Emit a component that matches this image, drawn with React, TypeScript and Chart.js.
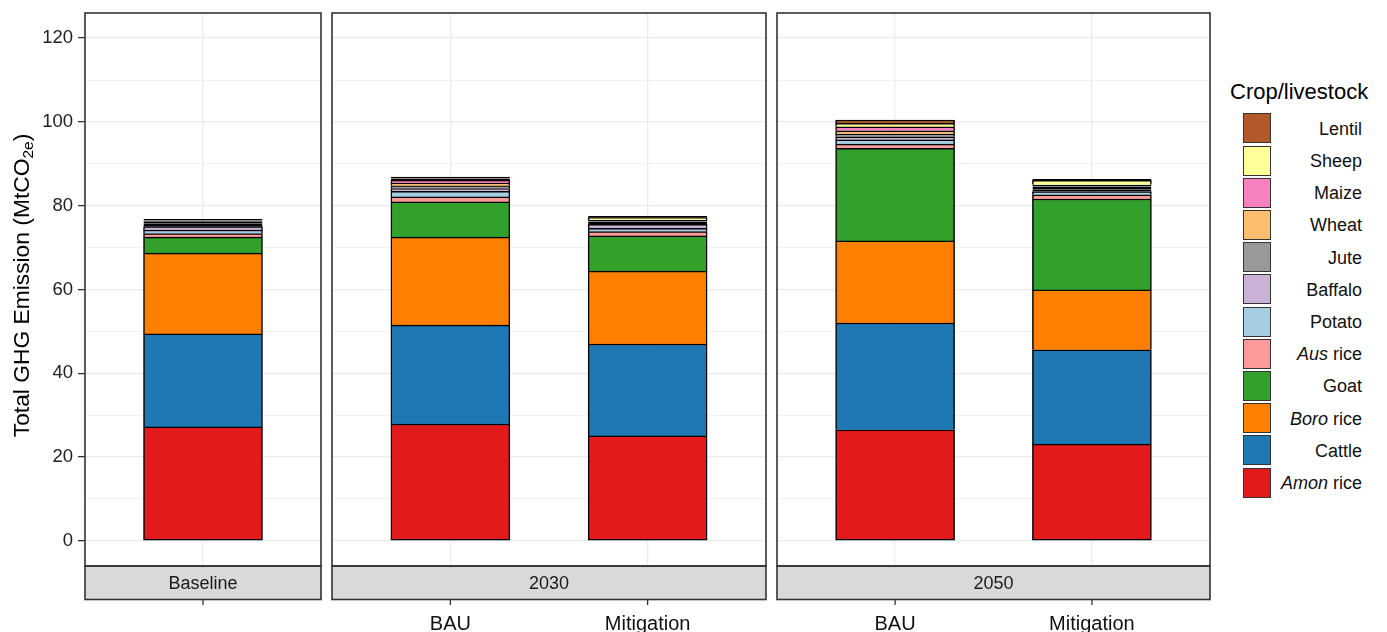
import React, { useEffect, useRef } from "react";
import { Chart, registerables } from "chart.js";

Chart.register(...registerables);

// ---------------- data ----------------
const PANELS = ["Baseline", "2030", "2050"];
const BAR_PANEL = [0, 1, 1, 2, 2];
const BAR_SCENARIO = ["", "BAU", "Mitigation", "BAU", "Mitigation"];

const Y_LABEL_TICKS = [0, 20, 40, 60, 80, 100, 120];
const Y_GRID_TICKS = [0, 10, 20, 30, 40, 50, 60, 70, 80, 90, 100, 110, 120];

const SERIES_NAMES = [
  "Amon rice",
  "Cattle",
  "Boro rice",
  "Goat",
  "Aus rice",
  "Potato",
  "Baffalo",
  "Jute",
  "Wheat",
  "Maize",
  "Sheep",
  "Lentil",
];

// values per bar: Baseline, 2030 BAU, 2030 Mitigation, 2050 BAU, 2050 Mitigation
const amonRice = [27.2, 27.9, 25.05, 26.5, 23.1];
const cattle = [22.2, 23.6, 21.95, 25.5, 22.5];
const boroRice = [19.3, 21.0, 17.4, 19.6, 14.3];
const goat = [3.8, 8.4, 8.4, 22.1, 21.7];
const ausRice = [0.85, 1.2, 1.0, 1.0, 1.0];
const potato = [0.85, 1.35, 0.8, 1.0, 0.8];
const baffalo = [0.8, 0.65, 0.95, 0.75, 0.4];
const jute = [0.4, 0.65, 0.35, 0.65, 0.4];
const wheat = [0.4, 0.65, 0.35, 0.8, 0.4];
const maize = [0.35, 0.7, 0.35, 0.95, 0.4];
const sheep = [0.35, 0.4, 0.55, 0.8, 1.05];
const lentil = [0.3, 0.4, 0.4, 0.8, 0.3];

const SERIES_VALUES = [
  amonRice,
  cattle,
  boroRice,
  goat,
  ausRice,
  potato,
  baffalo,
  jute,
  wheat,
  maize,
  sheep,
  lentil,
];

// ---------------- styles ----------------
const COLORS = [
  "#E31A1C",
  "#1F78B4",
  "#FF7F00",
  "#33A02C",
  "#FB9A99",
  "#A6CEE3",
  "#CAB2D6",
  "#999999",
  "#FDBF6F",
  "#F781BF",
  "#FFFF99",
  "#B15928",
];

const FONT = "'Liberation Sans', Arial, Helvetica, sans-serif";
const W = 1387;
const H = 632;
// panel plotting areas [left, width]
const AREA: [number, number][] = [
  [85, 236],
  [332, 434],
  [777, 433],
];
const AREA_TOP = 13;
const AREA_BOTTOM = 566;
const STRIP_H = 33.5;
const Y_AXIS_W = 85;
const PAD = 2;
const BORDER_W = 1.5;
const THIN = 0.5;

Chart.defaults.font.family = FONT;

const panelPlugin = {
  id: "panelDeco",
  afterDraw(chart: any, _args: any, opts: any) {
    const { ctx, chartArea: a } = chart;
    ctx.save();
    const sTop = a.bottom;
    const sBot = a.bottom + STRIP_H;
    // strip
    ctx.fillStyle = "#D9D9D9";
    ctx.fillRect(a.left, sTop, a.right - a.left, STRIP_H);
    ctx.strokeStyle = "#333333";
    ctx.lineWidth = 1.6;
    ctx.strokeRect(a.left, sTop, a.right - a.left, STRIP_H);
    // panel border
    ctx.strokeRect(a.left, a.top, a.right - a.left, a.bottom - a.top);
    // strip text
    ctx.fillStyle = "#1A1A1A";
    ctx.font = `18px ${FONT}`;
    ctx.textAlign = "center";
    ctx.textBaseline = "middle";
    ctx.fillText(opts.title, (a.left + a.right) / 2, (sTop + sBot) / 2 + 1);
    // x tick marks below strip
    const xs = chart.scales.x;
    ctx.lineWidth = 1.3;
    ctx.beginPath();
    xs.ticks.forEach((t: any) => {
      const px = xs.getPixelForValue(t.value);
      ctx.moveTo(px, sBot);
      ctx.lineTo(px, sBot + 5.5);
    });
    ctx.stroke();
    // y axis title
    if (opts.yTitle) {
      const cx = opts.yTitleX;
      const cy = (a.top + a.bottom) / 2;
      ctx.translate(cx, cy);
      ctx.rotate(-Math.PI / 2);
      ctx.textAlign = "left";
      ctx.textBaseline = "alphabetic";
      ctx.fillStyle = "#000000";
      const main = "Total GHG Emission (MtCO";
      const sub = "2e";
      const close = ")";
      ctx.font = `22.8px ${FONT}`;
      const w1 = ctx.measureText(main).width;
      const w3 = ctx.measureText(close).width;
      ctx.font = `15.5px ${FONT}`;
      const w2 = ctx.measureText(sub).width;
      const start = -(w1 + w2 + w3) / 2 + 4;
      const base = 8.2;
      ctx.font = `22.8px ${FONT}`;
      ctx.fillText(main, start, base);
      ctx.font = `15.5px ${FONT}`;
      ctx.fillText(sub, start + w1, base + 4);
      ctx.font = `22.8px ${FONT}`;
      ctx.fillText(close, start + w1 + w2, base);
    }
    ctx.restore();
  },
};

function PanelChart({ p }: { p: number }) {
  const ref = useRef<HTMLCanvasElement | null>(null);
  const yW = p === 0 ? Y_AXIS_W : 0;
  const [areaLeft, areaW] = AREA[p];
  const canvasLeft = areaLeft - yW - PAD;
  const canvasW = areaW + yW + 2 * PAD;

  useEffect(() => {
    if (!ref.current) return;
    const bars = BAR_PANEL.map((bp, i) => (bp === p ? i : -1)).filter((i) => i >= 0);
    const xs = bars.map((_, k) => k + 1);
    const labels = bars.map((b) => BAR_SCENARIO[b]);

    const rawY = (c: any) => (c.raw && typeof c.raw.y === "number" ? c.raw.y : 1);

    const datasets = SERIES_VALUES.map((vals, si) => ({
      label: SERIES_NAMES[si],
      data: bars.map((b, k) => ({ x: k + 1, y: vals[b] })),
      backgroundColor: COLORS[si],
      borderColor: "#000000",
      borderWidth: BORDER_W,
      // very thin segments get their outline on both edges (they read as black, as in ggplot)
      borderSkipped: (c: any) => (si === 0 || rawY(c) < THIN ? false : "start"),
      inflateAmount: (c: any) => (rawY(c) < THIN ? 0 : 0.33),
      barThickness: 119,
    }));

    const chart = new Chart(ref.current, {
      type: "bar",
      data: { datasets: datasets as any },
      options: {
        responsive: false,
        animation: false,
        events: [],
        layout: { padding: { top: AREA_TOP, left: PAD, right: PAD, bottom: 0 } },
        plugins: {
          legend: { display: false },
          tooltip: { enabled: false },
          panelDeco: {
            title: PANELS[p],
            yTitle: p === 0,
            yTitleX: 21 - canvasLeft,
          },
        } as any,
        scales: {
          x: {
            type: "linear",
            stacked: true,
            min: 0.4,
            max: bars.length + 0.6,
            offset: false,
            afterBuildTicks: (s: any) => {
              s.ticks = xs.map((v) => ({ value: v }));
            },
            afterFit: (s: any) => {
              s.height = H - AREA_BOTTOM;
              s.paddingLeft = 0;
              s.paddingRight = 0;
            },
            ticks: {
              autoSkip: false,
              maxRotation: 0,
              minRotation: 0,
              padding: 46,
              color: "#111111",
              font: { size: 20, family: FONT },
              callback: (v: any) => labels[Math.round(Number(v)) - 1] ?? "",
            },
            grid: {
              color: "#EBEBEB",
              lineWidth: 1.3,
              drawTicks: false,
              offset: false,
            },
            border: { display: false },
          },
          y: {
            type: "linear",
            stacked: true,
            min: -6,
            max: 126,
            afterBuildTicks: (s: any) => {
              s.ticks = Y_GRID_TICKS.map((v) => ({ value: v }));
            },
            afterFit: (s: any) => {
              s.width = yW;
              s.paddingTop = 0;
              s.paddingBottom = 0;
            },
            ticks: {
              display: p === 0,
              padding: 5,
              color: "#222222",
              font: { size: 18.5, family: FONT },
              callback: (v: any) => (Y_LABEL_TICKS.includes(Number(v)) ? String(v) : ""),
            },
            grid: {
              color: "#EBEBEB",
              lineWidth: (c: any) => (Y_LABEL_TICKS.includes(c.tick?.value) ? 1.3 : 0.7),
              drawTicks: p === 0,
              tickLength: 7,
              tickWidth: 1.3,
              tickColor: (c: any) =>
                Y_LABEL_TICKS.includes(c.tick?.value) ? "#333333" : "rgba(0,0,0,0)",
            },
            border: { display: false },
          },
        },
      },
      plugins: [panelPlugin as any],
    });
    return () => chart.destroy();
  }, [p]);

  return (
    <canvas
      ref={ref}
      width={canvasW}
      height={H}
      style={{ position: "absolute", left: canvasLeft, top: 0, width: canvasW, height: H }}
    />
  );
}

function LegendLabel({ name }: { name: string }) {
  if (name.endsWith(" rice")) {
    const first = name.slice(0, name.length - 5);
    return (
      <>
        <i>{first}</i> rice
      </>
    );
  }
  return <>{name}</>;
}

function Legend() {
  const order = SERIES_NAMES.map((_, i) => SERIES_NAMES.length - 1 - i);
  const top0 = 113.3;
  const pitch = 32.2;
  return (
    <>
      <div
        style={{
          position: "absolute",
          left: 1230,
          top: 81,
          font: `22px ${FONT}`,
          lineHeight: "22px",
          color: "#000",
          whiteSpace: "nowrap",
        }}
      >
        Crop/livestock
      </div>
      {order.map((si, r) => (
        <React.Fragment key={si}>
          <div
            style={{
              position: "absolute",
              left: 1243,
              top: top0 + r * pitch,
              width: 28,
              height: 30,
              boxSizing: "border-box",
              border: "1.6px solid #333",
              background: COLORS[si],
            }}
          />
          <div
            style={{
              position: "absolute",
              right: W - 1362,
              top: top0 + r * pitch + 5.5,
              height: 30,
              lineHeight: "30px",
              font: `18px ${FONT}`,
              color: "#111",
              textAlign: "right",
              whiteSpace: "nowrap",
            }}
          >
            <LegendLabel name={SERIES_NAMES[si]} />
          </div>
        </React.Fragment>
      ))}
    </>
  );
}

export default function App() {
  return (
    <div
      style={{
        position: "absolute",
        left: 0,
        top: 0,
        width: W,
        height: H,
        background: "#ffffff",
        overflow: "hidden",
      }}
    >
      {PANELS.map((_, p) => (
        <PanelChart key={p} p={p} />
      ))}
      <Legend />
    </div>
  );
}
